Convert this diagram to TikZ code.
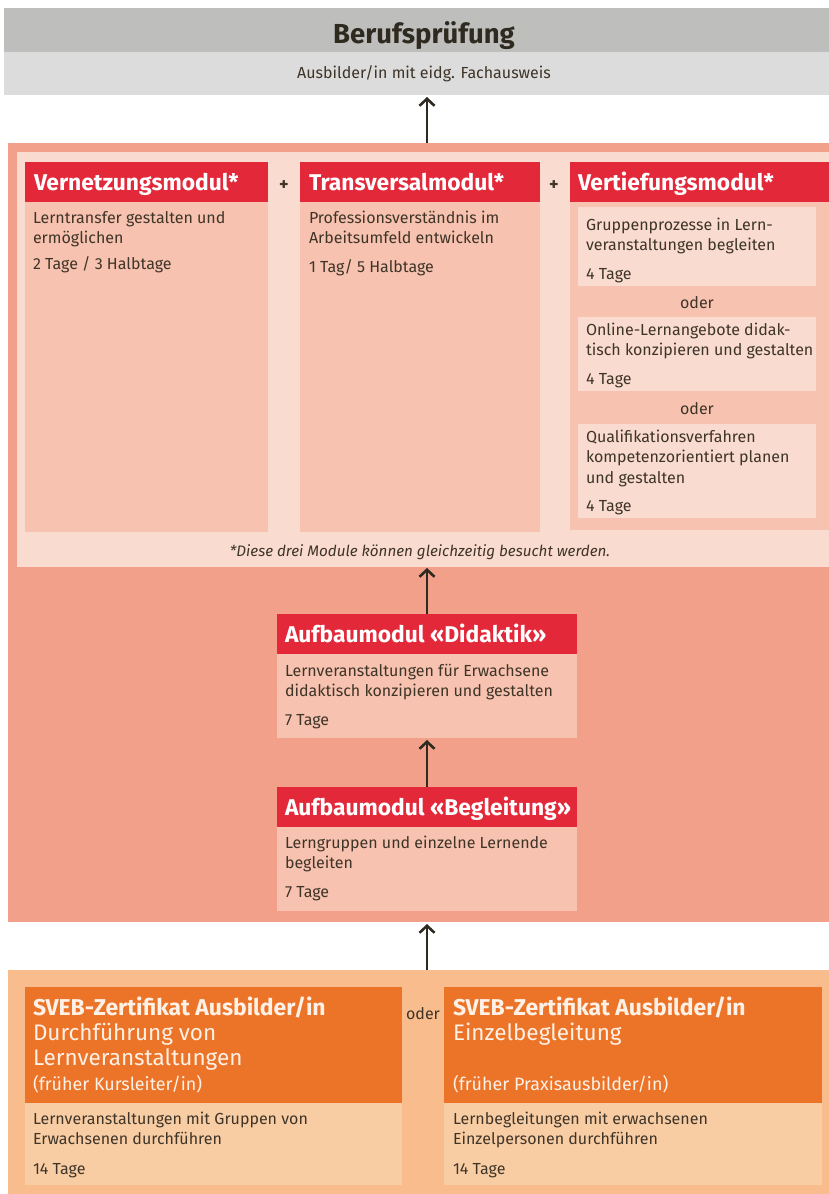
\documentclass[tikz,border=0pt]{standalone}
\usepackage{fontspec}
\setmainfont{Fira Sans}
\usetikzlibrary{arrows.meta}

\definecolor{greyhead}{HTML}{BEBEBD}
\definecolor{greybody}{HTML}{DCDCDC}
\definecolor{salmon}{HTML}{F2A089}
\definecolor{panel}{HTML}{FADBCF}
\definecolor{modbody}{HTML}{F7C2AF}
\definecolor{modred}{HTML}{E3283A}
\definecolor{orangeouter}{HTML}{F8BC8D}
\definecolor{orangehead}{HTML}{EC7429}
\definecolor{orangebody}{HTML}{F9CDA4}
\definecolor{ink}{HTML}{3E3428}
\definecolor{arrowc}{HTML}{2F2A1F}
\definecolor{paleink}{HTML}{FFF1E6}

% multi-line text block whose reference point is the first baseline
\newcommand{\blocktext}[1]{\parbox[t]{330pt}{\raggedright #1}}

\begin{document}
\begin{tikzpicture}[x=1pt,y=-1pt,
  box/.style={rectangle, draw=none, anchor=north west, inner sep=0pt, outer sep=0pt},
  txt/.style={anchor=base west, inner sep=0pt, outer sep=0pt, text=ink,
    font=\fontsize{16}{20.5}\selectfont},
  ctxt/.style={anchor=base, inner sep=0pt, outer sep=0pt, text=ink,
    font=\fontsize{16}{20.5}\selectfont},
  head/.style={anchor=base west, inner sep=0pt, outer sep=0pt, text=white,
    font=\fontsize{22.8}{26}\selectfont\bfseries},
  svebttl/.style={anchor=base west, inner sep=0pt, outer sep=0pt, text=paleink,
    font=\fontsize{22.5}{25}\selectfont},
  arr/.style={draw=arrowc, line width=2.6pt, -{Straight Barb[length=7pt,width=15pt]}},
]
\useasboundingbox (0,0) rectangle (829,1194);

% ---------- Berufsprüfung ----------
\node[box, fill=greyhead, minimum width=825pt, minimum height=44pt] (pruefhead) at (4,8) {};
\node[box, fill=greybody, minimum width=825pt, minimum height=43pt] (pruefbody) at (4,52) {};
\node[anchor=base, inner sep=0pt, text=arrowc, font=\fontsize{27.5}{30}\selectfont\bfseries]
  (pruefttl) at (424,43) {Berufsprüfung};
\node[anchor=base, inner sep=0pt, text=ink, font=\fontsize{16}{18}\selectfont]
  (pruefsub) at (424,78) {Ausbilder/in mit eidg. Fachausweis};

% ---------- Modulbereich ----------
\node[box, fill=salmon, minimum width=821pt, minimum height=779pt] (modarea) at (8,143) {};
\node[box, fill=panel, minimum width=812pt, minimum height=415pt] (modpanel) at (17,152) {};

% Vernetzungsmodul
\node[box, fill=modred, minimum width=243pt, minimum height=40pt] (vnhead) at (25,162) {};
\node[box, fill=modbody, minimum width=243pt, minimum height=330pt] (vnbody) at (25,202) {};
\node[head] (vnttl) at (34,190) {Vernetzungsmodul*};
\node[txt] (vntxt) at (33,223) {\blocktext{Lerntransfer gestalten und\\ermöglichen\\[5.5pt]2 Tage / 3 Halbtage}};

\node[anchor=base, inner sep=0pt, text=ink, font=\fontsize{18}{20}\selectfont\bfseries] (plus1) at (284,190) {+};

% Transversalmodul
\node[box, fill=modred, minimum width=240pt, minimum height=40pt] (trhead) at (300,162) {};
\node[box, fill=modbody, minimum width=240pt, minimum height=330pt] (trbody) at (300,202) {};
\node[head] (trttl) at (309,190) {Transversalmodul*};
\node[txt] (trtxt) at (309,223) {\blocktext{Professionsverständnis im\\Arbeitsumfeld entwickeln\\[8pt]1 Tag/ 5 Halbtage}};

\node[anchor=base, inner sep=0pt, text=ink, font=\fontsize{18}{20}\selectfont\bfseries] (plus2) at (554,190) {+};

% Vertiefungsmodul
\node[box, fill=modred, minimum width=259pt, minimum height=40pt] (vthead) at (570,162) {};
\node[box, fill=modbody, minimum width=259pt, minimum height=328pt] (vtbody) at (570,202) {};
\node[head] (vtttl) at (578,190) {Vertiefungsmodul*};

\node[box, fill=panel, minimum width=238pt, minimum height=79pt] (opt1) at (578,207) {};
\node[txt] (opt1txt) at (586,230) {\blocktext{Gruppenprozesse in Lern-\\veranstaltungen begleiten\\[8pt]4 Tage}};
\node[ctxt] (oder1) at (697,308) {oder};
\node[box, fill=panel, minimum width=238pt, minimum height=74pt] (opt2) at (578,317) {};
\node[txt] (opt2txt) at (586,335) {\blocktext{Online-Lernangebote didak-\\tisch konzipieren und gestalten\\[8pt]4 Tage}};
\node[ctxt] (oder2) at (697,414) {oder};
\node[box, fill=panel, minimum width=238pt, minimum height=94pt] (opt3) at (578,424) {};
\node[txt] (opt3txt) at (586,442) {\blocktext{Qualifikationsverfahren\\kompetenzorientiert planen\\und gestalten\\[8pt]4 Tage}};

\node[anchor=base, inner sep=0pt, text=ink, font=\fontsize{15.2}{18}\selectfont\itshape]
  (fussnote) at (420,556) {*Diese drei Module können gleichzeitig besucht werden.};

% Aufbaumodul Didaktik
\node[box, fill=modred, minimum width=300pt, minimum height=40pt] (ddhead) at (277,614) {};
\node[box, fill=modbody, minimum width=300pt, minimum height=84pt] (ddbody) at (277,654) {};
\node[head] (ddttl) at (285,642) {Aufbaumodul «Didaktik»};
\node[txt] (ddtxt) at (285,676) {\blocktext{Lernveranstaltungen für Erwachsene\\didaktisch konzipieren und gestalten\\[8pt]7 Tage}};

% Aufbaumodul Begleitung
\node[box, fill=modred, minimum width=300pt, minimum height=40pt] (bghead) at (277,787) {};
\node[box, fill=modbody, minimum width=300pt, minimum height=84pt] (bgbody) at (277,827) {};
\node[head] (bgttl) at (285,815) {Aufbaumodul «Begleitung»};
\node[txt] (bgtxt) at (285,848) {\blocktext{Lerngruppen und einzelne Lernende\\begleiten\\[8pt]7 Tage}};

% ---------- SVEB-Zertifikate ----------
\node[box, fill=orangeouter, minimum width=821pt, minimum height=224pt] (sveb) at (8,970) {};

\node[box, fill=orangehead, minimum width=377pt, minimum height=116pt] (svahead) at (25,987) {};
\node[box, fill=orangebody, minimum width=377pt, minimum height=82pt] (svabody) at (25,1103) {};
\node[svebttl] (svattl) at (33,1015)
  {\blocktext{{\fontsize{22.9}{25}\selectfont\bfseries SVEB-Zertifikat Ausbilder/in}\\Durchführung von\\Lernveranstaltungen\\{\fontsize{17.9}{20}\selectfont(früher Kursleiter/in)}}};
\node[txt] (svatxt) at (33,1124) {\blocktext{Lernveranstaltungen mit Gruppen von\\Erwachsenen durchführen\\[9pt]14 Tage}};

\node[ctxt] (oder3) at (423,1019) {oder};

\node[box, fill=orangehead, minimum width=378pt, minimum height=116pt] (svbhead) at (444,987) {};
\node[box, fill=orangebody, minimum width=378pt, minimum height=82pt] (svbbody) at (444,1103) {};
\node[svebttl] (svbttl) at (453,1015)
  {\blocktext{{\fontsize{22.9}{25}\selectfont\bfseries SVEB-Zertifikat Ausbilder/in}\\Einzelbegleitung\\\mbox{}\\{\fontsize{17.9}{20}\selectfont(früher Praxisausbilder/in)}}};
\node[txt] (svbtxt) at (453,1124) {\blocktext{Lernbegleitungen mit erwachsenen\\Einzelpersonen durchführen\\[9pt]14 Tage}};

% ---------- Pfeile ----------
\draw[arr] (modarea.north -| ddhead.north) -- ([yshift=-2pt]pruefbody.south -| ddhead.north);
\draw[arr] (ddhead.north) -- ([yshift=-1pt]modpanel.south -| ddhead.north);
\draw[arr] (bghead.north) -- ([yshift=-2pt]ddbody.south);
\draw[arr] (sveb.north -| ddhead.north) -- ([yshift=-2pt]modarea.south -| ddhead.north);
\end{tikzpicture}
\end{document}
